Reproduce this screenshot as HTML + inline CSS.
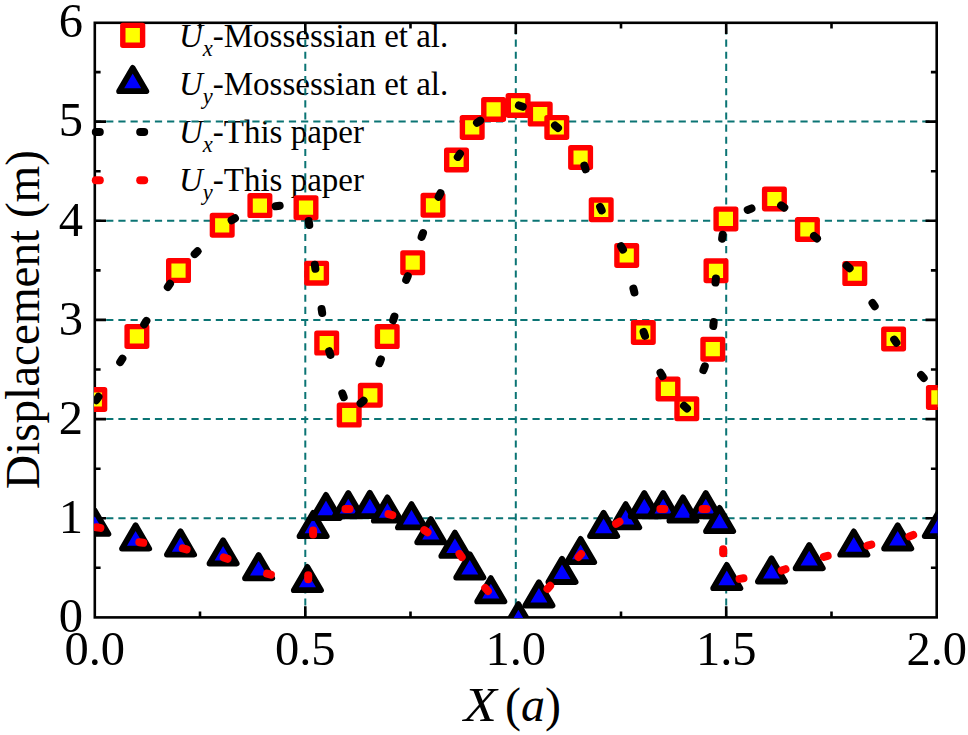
<!DOCTYPE html>
<html><head><meta charset="utf-8"><style>
html,body{margin:0;padding:0;background:#fff;width:968px;height:735px;overflow:hidden}
svg{position:absolute;left:0;top:0;display:block}
text{font-family:"Liberation Serif",serif;fill:#000}
</style></head><body>
<svg width="968" height="735" viewBox="0 0 968 735">
<defs><clipPath id="pa"><rect x="94" y="21.8" width="843.7" height="596.2"/></clipPath></defs>

<text x="178.9" y="46.8" font-size="33"><tspan font-style="italic">U</tspan><tspan font-style="italic" font-size="22.5" dy="9">x</tspan><tspan dy="-9">-Mossessian et al.</tspan></text>
<text x="178.9" y="94.8" font-size="33"><tspan font-style="italic">U</tspan><tspan font-style="italic" font-size="22.5" dy="9">y</tspan><tspan dy="-9">-Mossessian et al.</tspan></text>
<text x="178.9" y="142.8" font-size="33"><tspan font-style="italic">U</tspan><tspan font-style="italic" font-size="22.5" dy="9">x</tspan><tspan dy="-9">-This paper</tspan></text>
<text x="178.9" y="190.8" font-size="33"><tspan font-style="italic">U</tspan><tspan font-style="italic" font-size="22.5" dy="9">y</tspan><tspan dy="-9">-This paper</tspan></text>
<g stroke="#0b7474" stroke-width="2.0" stroke-dasharray="7.2 4.98" fill="none">
<path stroke-dasharray="7.1 5.05" d="M305.3,617.7V22.8"/>
<path stroke-dasharray="7.1 5.05" d="M515.8,617.7V22.8"/>
<path stroke-dasharray="7.1 5.05" d="M726.2,617.7V22.8"/>
<path d="M94,518.2H936.7"/>
<path d="M94,419.1H936.7"/>
<path d="M94,319.9H936.7"/>
<path d="M94,220.8H936.7"/>
<path d="M94,121.6H936.7"/>
</g>
<g stroke="#000" stroke-width="2.6" fill="none" stroke-linecap="butt">
<rect x="94.8" y="22.8" width="841.9" height="594.6"/>
<path d="M200.0,617.4v-5.8M200.0,22.8v5.8"/>
<path d="M305.3,617.4v-11.2M305.3,22.8v11.2"/>
<path d="M410.5,617.4v-5.8M410.5,22.8v5.8"/>
<path d="M515.8,617.4v-11.2M515.8,22.8v11.2"/>
<path d="M621.0,617.4v-5.8M621.0,22.8v5.8"/>
<path d="M726.2,617.4v-11.2M726.2,22.8v11.2"/>
<path d="M831.5,617.4v-5.8M831.5,22.8v5.8"/>
<path d="M94.8,567.8h5.8M936.7,567.8h-5.8"/>
<path d="M94.8,518.2h11.2M936.7,518.2h-11.2"/>
<path d="M94.8,468.7h5.8M936.7,468.7h-5.8"/>
<path d="M94.8,419.1h11.2M936.7,419.1h-11.2"/>
<path d="M94.8,369.5h5.8M936.7,369.5h-5.8"/>
<path d="M94.8,319.9h11.2M936.7,319.9h-11.2"/>
<path d="M94.8,270.4h5.8M936.7,270.4h-5.8"/>
<path d="M94.8,220.8h11.2M936.7,220.8h-11.2"/>
<path d="M94.8,171.2h5.8M936.7,171.2h-5.8"/>
<path d="M94.8,121.6h11.2M936.7,121.6h-11.2"/>
<path d="M94.8,72.1h5.8M936.7,72.1h-5.8"/>
</g>
<g clip-path="url(#pa)">
<g fill="#ffff00" stroke="#ff0000" stroke-width="5.4" stroke-linejoin="round">
<rect x="85.0" y="389.7" width="19.6" height="19.6"/>
<rect x="127.1" y="326.6" width="19.6" height="19.6"/>
<rect x="168.7" y="260.8" width="19.6" height="19.6"/>
<rect x="212.4" y="215.5" width="19.6" height="19.6"/>
<rect x="250.1" y="195.8" width="19.6" height="19.6"/>
<rect x="296.2" y="197.9" width="19.6" height="19.6"/>
<rect x="306.8" y="263.4" width="19.6" height="19.6"/>
<rect x="316.9" y="333.3" width="19.6" height="19.6"/>
<rect x="339.4" y="405.3" width="19.6" height="19.6"/>
<rect x="360.5" y="385.5" width="19.6" height="19.6"/>
<rect x="377.4" y="326.8" width="19.6" height="19.6"/>
<rect x="402.9" y="252.9" width="19.6" height="19.6"/>
<rect x="423.2" y="195.5" width="19.6" height="19.6"/>
<rect x="446.7" y="150.2" width="19.6" height="19.6"/>
<rect x="462.4" y="117.6" width="19.6" height="19.6"/>
<rect x="483.8" y="99.6" width="19.6" height="19.6"/>
<rect x="508.3" y="95.6" width="19.6" height="19.6"/>
<rect x="530.4" y="104.3" width="19.6" height="19.6"/>
<rect x="547.0" y="117.6" width="19.6" height="19.6"/>
<rect x="570.8" y="147.7" width="19.6" height="19.6"/>
<rect x="591.4" y="200.0" width="19.6" height="19.6"/>
<rect x="616.9" y="245.7" width="19.6" height="19.6"/>
<rect x="633.5" y="322.7" width="19.6" height="19.6"/>
<rect x="658.2" y="379.1" width="19.6" height="19.6"/>
<rect x="677.0" y="399.0" width="19.6" height="19.6"/>
<rect x="703.0" y="339.4" width="19.6" height="19.6"/>
<rect x="706.2" y="261.0" width="19.6" height="19.6"/>
<rect x="716.1" y="209.1" width="19.6" height="19.6"/>
<rect x="764.6" y="189.2" width="19.6" height="19.6"/>
<rect x="797.6" y="219.6" width="19.6" height="19.6"/>
<rect x="845.0" y="263.8" width="19.6" height="19.6"/>
<rect x="883.8" y="329.2" width="19.6" height="19.6"/>
<rect x="928.6" y="387.6" width="19.6" height="19.6"/>
</g>
<g fill="#0000ff" stroke="#000" stroke-width="5.8" stroke-linejoin="round">
<path d="M94.8,510.6L108.4,533.9L81.2,533.9Z"/>
<path d="M135.6,525.3L149.2,548.6L122.0,548.6Z"/>
<path d="M180.5,531.3L194.1,554.6L166.9,554.6Z"/>
<path d="M223.1,540.2L236.7,563.5L209.5,563.5Z"/>
<path d="M258.6,555.0L272.2,578.3L245.0,578.3Z"/>
<path d="M307.4,566.9L321.0,590.2L293.8,590.2Z"/>
<path d="M313.1,512.9L326.7,536.2L299.5,536.2Z"/>
<path d="M326.0,494.9L339.6,518.2L312.4,518.2Z"/>
<path d="M348.3,493.0L361.9,516.3L334.7,516.3Z"/>
<path d="M369.8,492.8L383.4,516.1L356.2,516.1Z"/>
<path d="M387.4,497.4L401.0,520.7L373.8,520.7Z"/>
<path d="M411.5,504.1L425.1,527.4L397.9,527.4Z"/>
<path d="M430.8,519.0L444.4,542.3L417.2,542.3Z"/>
<path d="M454.9,532.6L468.5,555.9L441.3,555.9Z"/>
<path d="M469.8,554.2L483.4,577.5L456.2,577.5Z"/>
<path d="M490.8,578.1L504.4,601.4L477.2,601.4Z"/>
<path d="M518.4,604.1L532.0,627.4L504.8,627.4Z"/>
<path d="M538.9,582.2L552.5,605.5L525.3,605.5Z"/>
<path d="M562.0,558.7L575.6,582.0L548.4,582.0Z"/>
<path d="M580.6,538.9L594.2,562.2L567.0,562.2Z"/>
<path d="M603.6,512.8L617.2,536.1L590.0,536.1Z"/>
<path d="M625.7,504.1L639.3,527.4L612.1,527.4Z"/>
<path d="M644.3,493.0L657.9,516.3L630.7,516.3Z"/>
<path d="M663.2,493.0L676.8,516.3L649.6,516.3Z"/>
<path d="M683.0,497.4L696.6,520.7L669.4,520.7Z"/>
<path d="M705.8,493.0L719.4,516.3L692.2,516.3Z"/>
<path d="M719.6,507.9L733.2,531.2L706.0,531.2Z"/>
<path d="M726.8,564.9L740.4,588.2L713.2,588.2Z"/>
<path d="M771.5,558.2L785.1,581.5L757.9,581.5Z"/>
<path d="M809.2,545.0L822.8,568.3L795.6,568.3Z"/>
<path d="M853.8,531.4L867.4,554.7L840.2,554.7Z"/>
<path d="M897.7,525.2L911.3,548.5L884.1,548.5Z"/>
<path d="M938.3,512.8L951.9,536.1L924.7,536.1Z"/>
</g>
<g stroke="#000" stroke-width="8.0" stroke-linecap="round" fill="none">
<path d="M96.3,400.2L98.5,396.8"/>
<path d="M120.2,362.1L122.4,358.7"/>
<path d="M144.2,324.3L146.4,320.9"/>
<path d="M167.8,287.0L170.0,283.8"/>
<path d="M194.7,254.1L197.5,251.3"/>
<path d="M231.6,220.2L235.0,218.2"/>
<path d="M275.7,206.3L279.7,205.7"/>
<path d="M308.7,221.0L309.3,225.0"/>
<path d="M314.8,264.8L315.4,268.8"/>
<path d="M321.6,309.0L322.2,313.0"/>
<path d="M329.2,351.2L330.4,355.0"/>
<path d="M342.3,393.4L343.7,397.2"/>
<path d="M360.6,403.3L363.6,400.7"/>
<path d="M379.5,363.2L380.9,359.4"/>
<path d="M393.2,320.3L394.4,316.5"/>
<path d="M406.2,279.8L407.8,276.2"/>
<path d="M421.6,236.9L423.0,233.1"/>
<path d="M438.6,196.8L440.4,193.2"/>
<path d="M457.8,156.9L460.0,153.7"/>
<path d="M477.0,122.8L480.2,120.6"/>
<path d="M518.9,105.4L522.7,106.8"/>
<path d="M555.0,125.4L558.0,128.0"/>
<path d="M584.4,165.5L585.6,169.3"/>
<path d="M600.1,206.8L601.7,210.4"/>
<path d="M621.0,246.2L623.0,249.6"/>
<path d="M633.4,288.6L634.4,292.4"/>
<path d="M643.6,332.0L645.0,335.8"/>
<path d="M660.5,372.7L662.5,376.1"/>
<path d="M684.0,405.8L687.0,408.4"/>
<path d="M703.4,370.1L704.8,366.3"/>
<path d="M713.3,326.0L713.7,322.0"/>
<path d="M715.5,282.6L715.9,278.6"/>
<path d="M722.1,238.7L722.7,234.7"/>
<path d="M747.7,209.9L751.5,208.5"/>
<path d="M781.1,205.4L784.3,207.6"/>
<path d="M814.0,235.9L817.0,238.5"/>
<path d="M846.6,265.6L849.6,268.2"/>
<path d="M872.5,303.0L874.7,306.2"/>
<path d="M894.2,339.6L896.4,342.8"/>
<path d="M921.1,375.0L923.7,378.0"/>
</g>
<g stroke="#ff0000" stroke-width="8.0" stroke-linecap="round" fill="none">
<path d="M96.4,527.3L100.4,527.9"/>
<path d="M139.3,542.2L143.3,542.8"/>
<path d="M182.8,548.4L186.6,549.4"/>
<path d="M223.7,557.4L227.5,558.8"/>
<path d="M267.1,573.7L270.9,574.7"/>
<path d="M308.2,575.2L308.2,579.2"/>
<path d="M313.1,530.6L313.1,534.6"/>
<path d="M345.5,508.9L349.5,508.9"/>
<path d="M388.5,514.1L392.3,515.1"/>
<path d="M424.3,530.1L427.5,532.3"/>
<path d="M459.5,553.9L461.7,557.1"/>
<path d="M485.3,588.0L487.9,591.0"/>
<path d="M547.5,588.8L550.1,585.8"/>
<path d="M578.5,557.0L581.1,554.0"/>
<path d="M616.1,523.8L619.5,521.8"/>
<path d="M660.4,508.9L664.4,508.9"/>
<path d="M702.6,508.9L706.6,508.9"/>
<path d="M723.2,549.3L723.2,553.3"/>
<path d="M739.5,578.9L743.5,578.3"/>
<path d="M781.7,570.6L785.5,569.2"/>
<path d="M823.9,556.8L827.7,555.8"/>
<path d="M867.5,545.6L871.3,544.6"/>
<path d="M909.4,536.4L913.2,535.0"/>
</g>
</g>
<g fill="#ffff00" stroke="#ff0000" stroke-width="5.4" stroke-linejoin="round"><rect x="122.8" y="25.4" width="19.8" height="19.8"/></g>
<g fill="#0000ff" stroke="#000" stroke-width="5.8" stroke-linejoin="round"><path d="M132.7,67.9L146.3,91.2L119.1,91.2Z"/></g>
<g stroke="#000" stroke-width="8.0" stroke-linecap="round" fill="none"><path d="M95.8,132.0L99.8,132.0"/><path d="M140.2,132.0L144.2,132.0"/></g>
<g stroke="#ff0000" stroke-width="8.0" stroke-linecap="round" fill="none"><path d="M95.8,180.3L99.8,180.3"/><path d="M140.2,180.3L144.2,180.3"/></g>
<text x="83" y="632.2" font-size="48.5" text-anchor="end">0</text>
<text x="83" y="533.0" font-size="48.5" text-anchor="end">1</text>
<text x="83" y="433.9" font-size="48.5" text-anchor="end">2</text>
<text x="83" y="334.7" font-size="48.5" text-anchor="end">3</text>
<text x="83" y="235.6" font-size="48.5" text-anchor="end">4</text>
<text x="83" y="136.4" font-size="48.5" text-anchor="end">5</text>
<text x="83" y="37.3" font-size="48.5" text-anchor="end">6</text>
<text x="94.8" y="665" font-size="48.5" text-anchor="middle">0.0</text>
<text x="305.3" y="665" font-size="48.5" text-anchor="middle">0.5</text>
<text x="515.8" y="665" font-size="48.5" text-anchor="middle">1.0</text>
<text x="726.2" y="665" font-size="48.5" text-anchor="middle">1.5</text>
<text x="936.7" y="665" font-size="48.5" text-anchor="middle">2.0</text>
<text transform="translate(39.2,489) rotate(-90) scale(0.972,1)" font-size="48.5">Displacement (m)</text>
<text transform="translate(463.7,721) scale(1.13,1)" font-size="48" font-style="italic">X</text>
<text x="505.1" y="721" font-size="48">(<tspan font-style="italic">a</tspan>)</text>
</svg></body></html>
